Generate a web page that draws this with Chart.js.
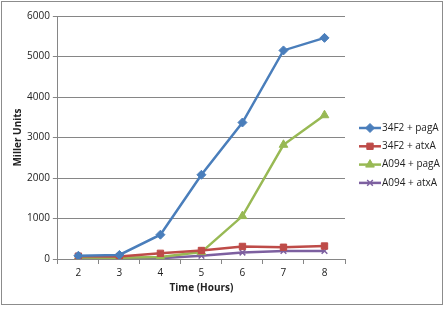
<!DOCTYPE html>
<html>
<head>
<meta charset="utf-8">
<script src="https://cdn.jsdelivr.net/npm/chart.js@4/dist/chart.umd.min.js"></script>
<style>
  body { margin: 0; background: #fff; }
  #frame { position: absolute; left: 1px; top: 1px; width: 440px; height: 302px; border: 1px solid #8c8c8c; }
  #wrap { position: relative; width: 440px; height: 302px; }
</style>
</head>
<body>
<div id="frame"><div id="wrap"><canvas id="chart"></canvas></div></div>
<script>
// data
const hours = ['2', '3', '4', '5', '6', '7', '8'];
const pagA34F2 = [80, 100, 600, 2080, 3370, 5150, 5460];
const atxA34F2 = [70, 60, 140, 210, 310, 290, 320];
const pagAA094 = [40, 30, 50, 170, 1060, 2820, 3550];
const atxAA094 = [30, 40, 20, 80, 160, 200, 200];
const seriesNames = ['34F2 + pagA', '34F2 + atxA', 'A094 + pagA', 'A094 + atxA'];

const fontFam = '"Open Sans", "Liberation Sans", sans-serif';

function makeSet(label, data, color, style, radius) {
    return {
        label: label,
        data: data,
        borderColor: color,
        backgroundColor: color,
        pointBackgroundColor: color,
        pointBorderColor: color,
        pointStyle: style,
        pointRadius: radius,
        pointBorderWidth: style === 'crossRot' ? 1.5 : 1,
        borderWidth: 2.5,
        tension: 0
    };
}

// legend drawn by hand: line + marker + text, like the office style
const sideLegend = {
    id: 'sideLegend',
    afterDraw(chart) {
        const ctx = chart.ctx;
        const x0 = 357, y0 = 126, step = 18.3;
        ctx.save();
        ctx.font = '10px ' + fontFam;
        ctx.textBaseline = 'middle';
        chart.data.datasets.forEach((ds, i) => {
            const y = y0 + i * step;
            ctx.strokeStyle = ds.borderColor;
            ctx.lineWidth = 2.5;
            ctx.beginPath();
            ctx.moveTo(x0, y);
            ctx.lineTo(x0 + 22, y);
            ctx.stroke();
            ctx.lineWidth = ds.pointBorderWidth;
            ctx.fillStyle = ds.borderColor;
            Chart.helpers.drawPoint(ctx, { pointStyle: ds.pointStyle, radius: ds.pointRadius, borderWidth: ds.pointBorderWidth }, x0 + 11, y);
            ctx.fillStyle = '#222';
            ctx.fillText(ds.label, x0 + 23, y);
        });
        ctx.restore();
    }
};

new Chart(document.getElementById('chart'), {
    type: 'line',
    data: {
        labels: hours,
        datasets: [
            makeSet(seriesNames[0], pagA34F2, '#4a7ebb', 'rectRot', 4.5),
            makeSet(seriesNames[1], atxA34F2, '#be4b48', 'rect', 4.5),
            makeSet(seriesNames[2], pagAA094, '#98b954', 'triangle', 5),
            makeSet(seriesNames[3], atxAA094, '#7d60a0', 'crossRot', 4)
        ]
    },
    options: {
        responsive: true,
        maintainAspectRatio: false,
        animation: false,
        layout: { padding: { left: 10, top: 14, right: 97, bottom: 6 } },
        plugins: { legend: { display: false }, tooltip: { enabled: false } },
        scales: {
            x: {
                offset: true,
                grid: { display: true, drawOnChartArea: false, offset: true, color: '#868686', tickLength: 5 },
                border: { color: '#868686' },
                ticks: { color: '#222', font: { family: fontFam, size: 10 }, padding: 3, maxRotation: 0 },
                title: { display: true, text: 'Time (Hours)', color: '#222', font: { family: fontFam, size: 10, weight: 'bold' }, padding: { top: 0 } }
            },
            y: {
                min: 0,
                max: 6000,
                ticks: { stepSize: 1000, color: '#222', font: { family: fontFam, size: 10 }, padding: 3,
                         callback: v => String(v) },
                grid: { color: '#868686', tickLength: 5 },
                border: { color: '#868686' },
                title: { display: true, text: 'Miller Units', color: '#222', font: { family: fontFam, size: 10, weight: 'bold' }, padding: { top: 0, bottom: 0 } }
            }
        }
    },
    plugins: [sideLegend]
});
</script>
</body>
</html>
